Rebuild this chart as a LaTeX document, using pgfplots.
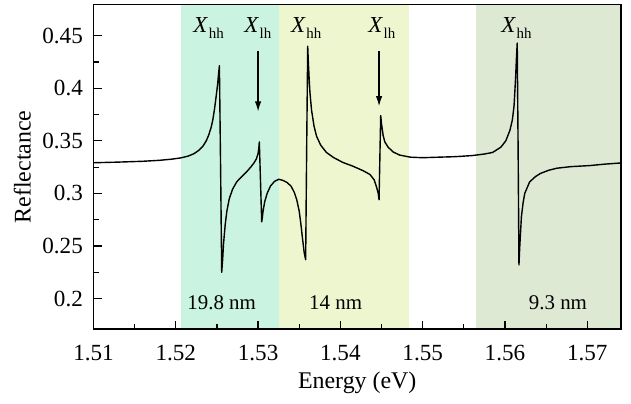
\documentclass[border=0pt]{standalone}
\usepackage{pgfplots}
\pgfplotsset{compat=1.18}
\usepackage{fontspec}
\setmainfont{Liberation Serif}
\usetikzlibrary{arrows.meta}
\definecolor{bandA}{HTML}{CBF3E1}
\definecolor{bandB}{HTML}{EEF6D0}
\definecolor{bandC}{HTML}{DDE9D3}
\newcommand\Xs[1]{\textit{X}\kern0.3pt\raisebox{-0.55ex}{\fontsize{7.5}{8}\selectfont #1}}
\begin{document}
\begin{tikzpicture}
\begin{axis}[
  scale only axis,
  width=263.75bp, height=162.2bp,
  xmin=1.51, xmax=1.5741,
  ymin=0.171, ymax=0.4795,
  axis on top,
  axis line style={line width=0.75bp},
  xtick={1.51,1.52,1.53,1.54,1.55,1.56,1.57},
  ytick={0.2,0.25,0.3,0.35,0.4,0.45},
  minor x tick num=1, minor y tick num=1,
  xtick pos=left, ytick pos=left,
  tick align=inside,
  major tick length=4bp, minor tick length=2.5bp,
  tick style={line width=0.6bp, black},
  /pgf/number format/assume math mode=true,
  ticklabel style={font=\fontsize{11.6}{13}\selectfont},
  xticklabel style={yshift=-4.5bp, /pgf/number format/.cd, fixed, fixed zerofill, precision=2},
  yticklabel style={xshift=-1.8bp, /pgf/number format/.cd, fixed, precision=2},
  xlabel={Energy (eV)},
  ylabel={Reflectance},
  label style={font=\fontsize{12}{14}\selectfont},
  xlabel style={at={(axis description cs:0.5,-0.167)}, anchor=center},
  ylabel style={at={(axis description cs:-0.135,0.5)}, anchor=center},
]
\addplot[draw=none, fill=bandA] coordinates {(1.52063,0.171) (1.52063,0.4795) (1.53254,0.4795) (1.53254,0.171)} -- cycle;
\addplot[draw=none, fill=bandB] coordinates {(1.53254,0.171) (1.53254,0.4795) (1.54833,0.4795) (1.54833,0.171)} -- cycle;
\addplot[draw=none, fill=bandC] coordinates {(1.55647,0.171) (1.55647,0.4795) (1.5741,0.4795) (1.5741,0.171)} -- cycle;
\addplot[black, line width=0.7bp, line join=round] table {
1.5100 0.3292
1.5130 0.3298
1.5160 0.3306
1.5180 0.3315
1.5195 0.3326
1.5206 0.3338
1.5215 0.3355
1.5222 0.3378
1.5228 0.3410
1.5233 0.3450
1.5237 0.3500
1.5240 0.3555
1.5243 0.3630
1.5245 0.3700
1.5247 0.3800
1.5249 0.3920
1.5251 0.4050
1.5252 0.4140
1.5253 0.4215
1.52545 0.3200
1.52558 0.2250
1.5257 0.2380
1.5258 0.2520
1.5260 0.2700
1.5262 0.2830
1.5265 0.2950
1.5269 0.3040
1.5274 0.3110
1.5280 0.3160
1.5286 0.3205
1.5291 0.3250
1.5295 0.3290
1.5298 0.3330
1.5300 0.3380
1.5301 0.3440
1.53015 0.3490
1.53030 0.3100
1.53044 0.2730
1.5305 0.2760
1.5306 0.2830
1.5308 0.2920
1.5311 0.3000
1.5315 0.3070
1.5320 0.3115
1.5325 0.3135
1.5330 0.3125
1.5335 0.3105
1.5340 0.3070
1.5344 0.3010
1.5347 0.2940
1.5350 0.2830
1.5352 0.2710
1.5354 0.2570
1.5356 0.2440
1.53578 0.2370
1.53590 0.3400
1.53603 0.4400
1.5361 0.4260
1.5362 0.4100
1.5363 0.3960
1.5365 0.3790
1.5368 0.3640
1.5371 0.3545
1.5376 0.3460
1.5383 0.3390
1.5392 0.3340
1.5403 0.3295
1.5415 0.3260
1.5428 0.3215
1.5436 0.3180
1.5441 0.3130
1.5444 0.3060
1.54460 0.3000
1.54470 0.2940
1.54480 0.3350
1.54490 0.3740
1.5450 0.3660
1.5452 0.3550
1.5454 0.3490
1.5458 0.3440
1.5464 0.3395
1.5472 0.3365
1.5485 0.3345
1.5500 0.3340
1.5520 0.3345
1.5540 0.3350
1.5560 0.3360
1.5575 0.3375
1.5585 0.3390
1.5595 0.3440
1.5601 0.3500
1.5606 0.3600
1.5609 0.3700
1.5611 0.3830
1.5613 0.4110
1.5614 0.4300
1.56149 0.4430
1.56160 0.3400
1.56170 0.2320
1.5618 0.2500
1.5620 0.2780
1.5622 0.2910
1.5624 0.3000
1.5630 0.3110
1.5637 0.3160
1.5643 0.3190
1.5653 0.3220
1.5663 0.3240
1.5680 0.3255
1.5703 0.3265
1.5720 0.3278
1.5741 0.3290
};
\node[anchor=base west, inner sep=0, font=\fontsize{11.5}{13}\selectfont] at (axis cs:1.52210,0.4527) {\Xs{hh}};
\node[anchor=base west, inner sep=0, font=\fontsize{11.5}{13}\selectfont] at (axis cs:1.52829,0.4527) {\Xs{lh}};
\node[anchor=base west, inner sep=0, font=\fontsize{11.5}{13}\selectfont] at (axis cs:1.53396,0.4527) {\Xs{hh}};
\node[anchor=base west, inner sep=0, font=\fontsize{11.5}{13}\selectfont] at (axis cs:1.54335,0.4527) {\Xs{lh}};
\node[anchor=base west, inner sep=0, font=\fontsize{11.5}{13}\selectfont] at (axis cs:1.55951,0.4527) {\Xs{hh}};
\draw[line width=0.6bp, -{Latex[length=5bp,width=3.2bp]}] (axis cs:1.5300,0.435) -- (axis cs:1.5300,0.378);
\draw[line width=0.6bp, -{Latex[length=5bp,width=3.2bp]}] (axis cs:1.5447,0.435) -- (axis cs:1.5447,0.383);
\node[anchor=base, inner sep=0, font=\fontsize{10.5}{12}\selectfont] at (axis cs:1.52558,0.1893) {19.8 nm};
\node[anchor=base, inner sep=0, font=\fontsize{10.5}{12}\selectfont] at (axis cs:1.53943,0.1893) {14 nm};
\node[anchor=base, inner sep=0, font=\fontsize{10.5}{12}\selectfont] at (axis cs:1.56644,0.1893) {9.3 nm};
\end{axis}
\pgfresetboundingbox
\path ([xshift=-46.75bp,yshift=-37bp]current axis.south west) rectangle ([xshift=5bp,yshift=2.35bp]current axis.north east);
\end{tikzpicture}
\end{document}
